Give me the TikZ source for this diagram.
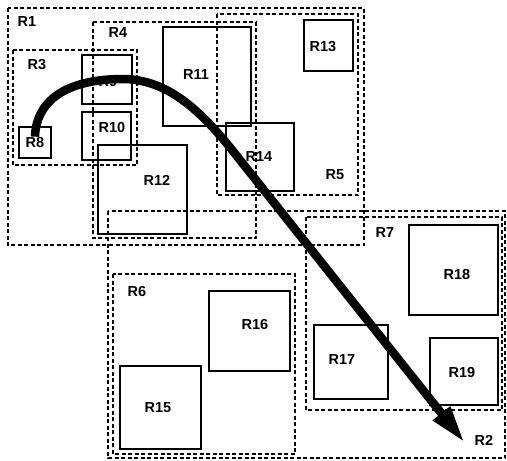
\documentclass[tikz,border=0pt]{standalone}
\usepackage{fontspec}
\setmainfont{Liberation Sans}
\usepackage{tikz}
\usetikzlibrary{arrows.meta}

\begin{document}
\begin{tikzpicture}[x=1pt, y=-1pt,
    region/.style={draw=black, line width=2pt, dash pattern=on 4pt off 2.5pt},
    block/.style={draw=black, line width=1.9pt},
    lbl/.style={font=\fontsize{14.5}{16}\selectfont\bfseries, text=black, inner sep=1pt},
    flow/.style={line width=8.5pt, -{Triangle[length=38pt, width=20pt]}},
  ]
  \useasboundingbox (0,0) rectangle (507,461);
  % dashed regions
  \draw[region] (8,8) rectangle (364,245);
  \draw[region] (217,14) rectangle (358,195);
  \draw[region] (93,22) rectangle (256,238);
  \draw[region] (13,50) rectangle (137,165);
  \draw[region] (108,211) rectangle (505,458);
  \draw[region] (113,274) rectangle (295,454);
  \draw[region] (306,217) rectangle (502,410);
  % solid boxes
  \draw[block] (82,55) rectangle (132,104);
  \draw[block] (82,112) rectangle (131,160);
  \draw[block] (19,127) rectangle (51,158);
  \draw[block] (163,27) rectangle (251,126);
  \draw[block] (98,145) rectangle (187,234);
  \draw[block] (226,123) rectangle (294,191);
  \draw[block] (304,20) rectangle (353,71);
  \draw[block] (209,291) rectangle (290,371);
  \draw[block] (120,366) rectangle (201,449);
  \draw[block] (409,225) rectangle (498,315);
  \draw[block] (314,325) rectangle (388,399);
  \draw[block] (430,338) rectangle (498,405);
  % labels
  \node[lbl] (r1) at (27,22) {R1};
  \node[lbl] (r2) at (484,440) {R2};
  \node[lbl] (r3) at (37,65) {R3};
  \node[lbl] (r4) at (118,33) {R4};
  \node[lbl] (r5) at (335,175) {R5};
  \node[lbl] (r6) at (137,292) {R6};
  \node[lbl] (r7) at (385,233) {R7};
  \node[lbl] (r8) at (35,143) {R8};
  \node[lbl] (r9) at (108,82) {R9};
  \node[lbl] (r10) at (112,128) {R10};
  \node[lbl] (r11) at (196,75) {R11};
  \node[lbl] (r12) at (157,180) {R12};
  \node[lbl] (r13) at (323,47) {R13};
  \node[lbl] (r14) at (259,157) {R14};
  \node[lbl] (r15) at (158,408) {R15};
  \node[lbl] (r16) at (255,325) {R16};
  \node[lbl] (r17) at (342,360) {R17};
  \node[lbl] (r18) at (457,275) {R18};
  \node[lbl] (r19) at (462,373) {R19};
  % path
  \coordinate (tip) at (465,443);
  \draw[flow] (r8.north) .. controls (36,105) and (60,80) .. (120,79)
    .. controls (170,78) and (205,115) .. (240,160) -- (tip);
\end{tikzpicture}
\end{document}
